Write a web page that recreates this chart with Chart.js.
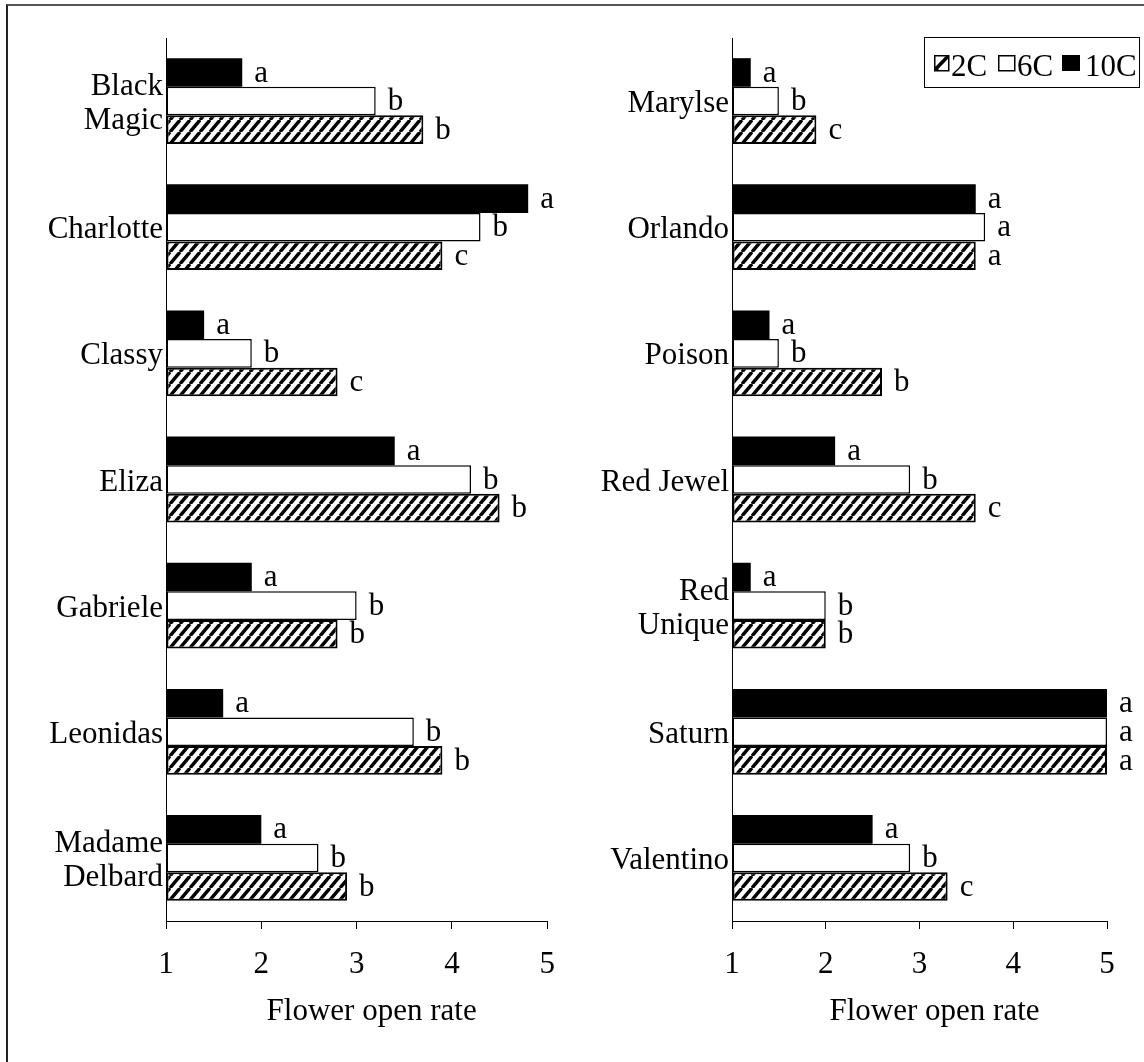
<!DOCTYPE html>
<html>
<head>
<meta charset="utf-8">
<script src="https://cdn.jsdelivr.net/npm/chart.js@4.4.1/dist/chart.umd.min.js"></script>
<style>
  html, body { margin: 0; padding: 0; background: #fff; }
  #page { position: relative; width: 1144px; height: 1062px; overflow: hidden; background: #fff; }
  #frame { position: absolute; left: 6px; top: 4px; right: -10px; bottom: -10px;
           border-left: 2px solid #222; border-top: 2px solid #555; }
  .panel { position: absolute; top: 0; width: 572px; height: 1062px; }
  #leftPanel { left: 0; }
  #rightPanel { left: 572px; }
</style>
</head>
<body>
<div id="page">
  <div id="frame"></div>
  <div class="panel" id="leftPanel"><canvas id="leftChart"></canvas></div>
  <div class="panel" id="rightPanel"><canvas id="rightChart"></canvas></div>
</div>
<script>
// Storage temperatures
const seriesNames = ['2C', '6C', '10C'];

// Left panel cultivars and mean flower open rate per temperature
const leftCategories = [['Black', 'Magic'], 'Charlotte', 'Classy', 'Eliza', 'Gabriele', 'Leonidas', ['Madame', 'Delbard']];
const left2C  = [3.7, 3.9, 2.8, 4.5, 2.8, 3.9, 2.9];
const left6C  = [3.2, 4.3, 1.9, 4.2, 3.0, 3.6, 2.6];
const left10C = [1.8, 4.8, 1.4, 3.4, 1.9, 1.6, 2.0];
const left2CLetters  = ['b', 'c', 'c', 'b', 'b', 'b', 'b'];
const left6CLetters  = ['b', 'b', 'b', 'b', 'b', 'b', 'b'];
const left10CLetters = ['a', 'a', 'a', 'a', 'a', 'a', 'a'];

// Right panel cultivars
const rightCategories = ['Marylse', 'Orlando', 'Poison', 'Red Jewel', ['Red', 'Unique'], 'Saturn', 'Valentino'];
const right2C  = [1.9, 3.6, 2.6, 3.6, 2.0, 5.0, 3.3];
const right6C  = [1.5, 3.7, 1.5, 2.9, 2.0, 5.0, 2.9];
const right10C = [1.2, 3.6, 1.4, 2.1, 1.2, 5.0, 2.5];
const right2CLetters  = ['c', 'a', 'b', 'c', 'b', 'a', 'c'];
const right6CLetters  = ['b', 'a', 'b', 'b', 'b', 'a', 'b'];
const right10CLetters = ['a', 'a', 'a', 'a', 'a', 'a', 'a'];

// Value axis
const xTicks = [1, 2, 3, 4, 5];
const axisTitle = 'Flower open rate';

const FONT_FAMILY = "'Liberation Serif', 'Times New Roman', serif";
const FONT_SIZE = 31;
Chart.defaults.font.family = FONT_FAMILY;
Chart.defaults.font.size = FONT_SIZE;
Chart.defaults.color = '#000';

// Diagonal hatch fill used for the 2C bars
function makeHatch() {
  const w = 10, h = 12;
  const tile = document.createElement('canvas');
  tile.width = w; tile.height = h;
  const g = tile.getContext('2d');
  g.fillStyle = '#fff';
  g.fillRect(0, 0, w, h);
  g.strokeStyle = '#000';
  g.lineWidth = 3.4;
  g.beginPath();
  for (let k = -1; k <= 1; k++) {
    g.moveTo(k * w, h);
    g.lineTo(k * w + w, 0);
  }
  g.stroke();
  return document.createElement('canvas').getContext('2d').createPattern(tile, 'repeat');
}
const hatch = makeHatch();

// Significance letters written just past the end of every bar
const letterPlugin = {
  id: 'letterMarks',
  afterDatasetsDraw(chart, args, opts) {
    const ctx = chart.ctx;
    ctx.save();
    ctx.font = FONT_SIZE + 'px ' + FONT_FAMILY;
    ctx.fillStyle = '#000';
    ctx.textAlign = 'left';
    ctx.textBaseline = 'middle';
    chart.data.datasets.forEach((ds, i) => {
      const letters = opts.letters[i];
      chart.getDatasetMeta(i).data.forEach((bar, j) => {
        ctx.fillText(letters[j], bar.x + 12, bar.y + 1);
      });
    });
    ctx.restore();
  }
};

// Axis title, set a little right of the axis centre
const titlePlugin = {
  id: 'axisTitleText',
  afterDraw(chart) {
    const xs = chart.scales.x;
    const ctx = chart.ctx;
    ctx.save();
    ctx.font = FONT_SIZE + 'px ' + FONT_FAMILY;
    ctx.fillStyle = '#000';
    ctx.textAlign = 'center';
    ctx.textBaseline = 'alphabetic';
    ctx.fillText(axisTitle, (xs.left + xs.right) / 2 + 15, xs.top + 99);
    ctx.restore();
  }
};

// Boxed legend: hatched 2C, open 6C, solid 10C
const legendPlugin = {
  id: 'boxLegend',
  afterDraw(chart) {
    const ctx = chart.ctx;
    const bx = 352, by = 37, bw = 215, bh = 50;
    ctx.save();
    ctx.fillStyle = '#fff';
    ctx.fillRect(bx, by, bw, bh);
    ctx.strokeStyle = '#000';
    ctx.lineWidth = 1;
    ctx.strokeRect(bx + 0.5, by + 0.5, bw, bh);

    const iconY = 55, iconH = 16, baseY = 76;
    // 2C icon
    ctx.fillStyle = '#fff';
    ctx.fillRect(362, iconY, 15, iconH);
    ctx.save();
    ctx.beginPath();
    ctx.rect(362, iconY, 15, iconH);
    ctx.clip();
    ctx.strokeStyle = '#000';
    ctx.lineWidth = 3.5;
    ctx.beginPath();
    ctx.moveTo(360, iconY + iconH + 2);
    ctx.lineTo(379, iconY - 2);
    ctx.stroke();
    ctx.fillStyle = '#000';
    ctx.beginPath();
    ctx.moveTo(362, iconY + iconH);
    ctx.lineTo(362, iconY + iconH - 6);
    ctx.lineTo(368, iconY + iconH);
    ctx.closePath();
    ctx.fill();
    ctx.restore();
    ctx.lineWidth = 1.5;
    ctx.strokeRect(362.75, iconY + 0.75, 14, iconH - 1);
    // 6C icon
    ctx.fillStyle = '#fff';
    ctx.fillRect(426, iconY, 17, iconH);
    ctx.strokeRect(426.75, iconY + 0.75, 16, iconH - 1);
    // 10C icon
    ctx.fillStyle = '#000';
    ctx.fillRect(490, iconY, 18, iconH);

    ctx.font = FONT_SIZE + 'px ' + FONT_FAMILY;
    ctx.textAlign = 'left';
    ctx.textBaseline = 'alphabetic';
    ctx.fillText(seriesNames[0], 379, baseY);
    ctx.fillText(seriesNames[1], 445, baseY);
    ctx.fillText(seriesNames[2], 513, baseY);
    ctx.restore();
  }
};

function buildPanel(canvasId, categories, v2, v6, v10, l2, l6, l10, pad, yWidth, extraPlugins) {
  return new Chart(document.getElementById(canvasId), {
    type: 'bar',
    data: {
      labels: categories,
      datasets: [
        { label: seriesNames[2], data: v10, base: 1, backgroundColor: '#000', borderColor: '#000', borderWidth: 0, borderSkipped: false },
        { label: seriesNames[1], data: v6, base: 1, backgroundColor: '#fff', borderColor: '#000', borderWidth: 1.5, borderSkipped: false },
        { label: seriesNames[0], data: v2, base: 1, backgroundColor: hatch, borderColor: '#000', borderWidth: 2, borderSkipped: false }
      ]
    },
    options: {
      indexAxis: 'y',
      responsive: true,
      maintainAspectRatio: false,
      animation: false,
      datasets: { bar: { categoryPercentage: 0.68, barPercentage: 1 } },
      layout: { padding: pad },
      plugins: {
        legend: { display: false },
        tooltip: { enabled: false },
        letterMarks: { letters: [l10, l6, l2] }
      },
      scales: {
        x: {
          type: 'linear',
          min: xTicks[0],
          max: xTicks[xTicks.length - 1],
          afterBuildTicks(scale) { scale.ticks = xTicks.map(v => ({ value: v })); },
          afterFit(scale) { scale.height = 141; },
          ticks: { color: '#000', padding: 17, maxRotation: 0, autoSkip: false, font: { size: FONT_SIZE } },
          grid: { drawOnChartArea: false, drawTicks: true, tickLength: 8, color: '#000', tickColor: '#000', lineWidth: 1 },
          border: { display: true, color: '#000', width: 1 }
        },
        y: {
          afterFit(scale) { scale.width = yWidth; },
          ticks: { color: '#000', padding: 3, labelOffset: 3, autoSkip: false, font: { size: FONT_SIZE, lineHeight: 1.1 } },
          grid: { display: false, drawTicks: false },
          border: { display: true, color: '#000', width: 1 }
        }
      }
    },
    plugins: [letterPlugin, titlePlugin].concat(extraPlugins)
  });
}

buildPanel('leftChart', leftCategories, left2C, left6C, left10C,
  left2CLetters, left6CLetters, left10CLetters,
  { left: 6, right: 23, top: 38, bottom: 0 }, 160, []);

buildPanel('rightChart', rightCategories, right2C, right6C, right10C,
  right2CLetters, right6CLetters, right10CLetters,
  { left: 10, right: 37, top: 38, bottom: 0 }, 150, [legendPlugin]);
</script>
</body>
</html>
